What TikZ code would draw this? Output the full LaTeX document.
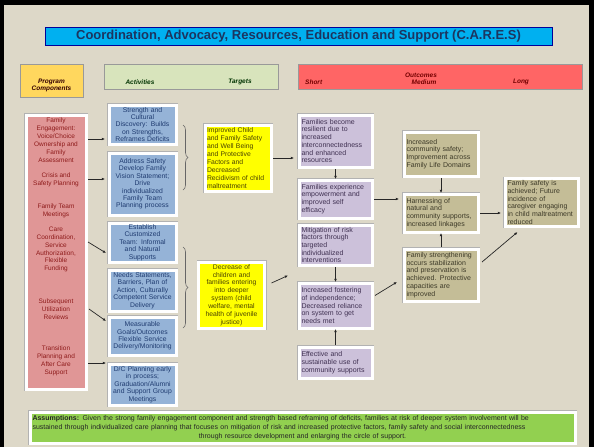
\documentclass[tikz,border=0pt]{standalone}
\usepackage{fontspec}
\setmainfont{Liberation Sans}
\usetikzlibrary{arrows.meta,decorations.pathreplacing,calc}
\definecolor{bg}{HTML}{DDD8C8}
\definecolor{titleblue}{HTML}{00B0F0}
\definecolor{titletext}{HTML}{1C3560}
\definecolor{pcyellow}{HTML}{FFD75E}
\definecolor{hdrgreen}{HTML}{D8E4BC}
\definecolor{hdrred}{HTML}{FF6565}
\definecolor{pinkfill}{HTML}{E09696}
\definecolor{pinktext}{HTML}{8E1B1B}
\definecolor{actblue}{HTML}{95B3D7}
\definecolor{acttext}{HTML}{1F3B70}
\definecolor{tyellow}{HTML}{FFFF00}
\definecolor{ttext}{HTML}{4A4300}
\definecolor{lav}{HTML}{CCC1DA}
\definecolor{lavtext}{HTML}{403152}
\definecolor{khaki}{HTML}{C4BD97}
\definecolor{khtext}{HTML}{3D3A28}
\definecolor{footgreen}{HTML}{92D050}
\begin{document}
\begin{tikzpicture}[x=1pt,y=-1pt,
  framed/.style={fill=#1, draw=white, line width=3pt, preaction={draw=black!30, line width=4pt}, inner sep=1.5pt, outer sep=0pt},
  pctext/.style={font=\fontsize{6.5}{7.9}\selectfont, align=center, text=pinktext, inner sep=0pt},
  act/.style={framed=actblue, minimum width=67pt, text width=63pt, align=center, text=acttext, font=\fontsize{6.8}{7.4}\selectfont},
  tgt/.style={framed=tyellow, minimum width=66pt, minimum height=66pt, text width=62pt, text=ttext, font=\fontsize{6.8}{7.9}\selectfont},
  shrt/.style={framed=lav, minimum width=73pt, text width=68pt, align=left, text=lavtext, font=\fontsize{7}{7.7}\selectfont},
  med/.style={framed=khaki, minimum width=74pt, text width=69pt, align=left, text=khtext, font=\fontsize{7}{7.8}\selectfont},
  hdr/.style={draw=black!40, line width=0.5pt, outer sep=0pt},
  hdrtext/.style={font=\fontsize{6.5}{7.5}\selectfont\bfseries\itshape, inner sep=0pt, align=center},
  arr/.style={-{Latex[length=3.2pt,width=2.8pt]}, line width=0.7pt, black!85},
  brace/.style={decorate, decoration={brace, amplitude=5pt}, line width=0.6pt, black!60}
]
\useasboundingbox (0,0) rectangle (594,447);
\fill[bg] (0,0) rectangle (594,447);
\fill[black] (0,0) rectangle (4,447);
\fill[black] (0,0) rectangle (594,5);
\fill[black] (589,0) rectangle (594,447);

% title
\node[fill=titleblue, draw=blue!60!black, line width=0.5pt, minimum width=507pt, minimum height=18pt, inner sep=0pt, text=titletext, font=\fontsize{13}{14}\selectfont\bfseries] (title) at (298.5,36) {Coordination, Advocacy, Resources, Education and Support (C.A.R.E.S)};

% headers
\node[hdr, fill=pcyellow, minimum width=63pt, minimum height=33pt] (hpc) at (51.5,80.5) {};
\node[hdrtext, text=black!80!red] (hpct) at (51.5,85.5) {Program\\Components};
\node[hdr, fill=hdrgreen, minimum width=174pt, minimum height=25pt] (hact) at (191,76.5) {};
\node[hdrtext, text=black!80!green] (hacts) at (140,82) {Activities};
\node[hdrtext, text=black!80!green] (htgts) at (240,82) {Targets};
\node[hdr, fill=hdrred, minimum width=284pt, minimum height=25pt] (hout) at (440,76.5) {};
\node[hdrtext, text=red!45!black] (houtc) at (421,75) {Outcomes};
\node[hdrtext, text=red!45!black, anchor=west] (hshort) at (305,82) {Short};
\node[hdrtext, text=red!45!black] (hmed) at (424,82) {Medium};
\node[hdrtext, text=red!45!black] (hlong) at (521,82) {Long};

% program components
\node[framed=pinkfill, minimum width=60pt, minimum height=274pt] (PC) at (56,252) {};
\node[pctext] (pc1) at (56,140) {Family\\Engagement:\\Voice/Choice\\Ownership and\\Family\\Assessment};
\node[pctext] (pc2) at (56,180) {Crisis and\\Safety Planning};
\node[pctext] (pc3) at (56,211) {Family Team\\Meetings};
\node[pctext] (pc4) at (56,249.5) {Care\\Coordination,\\Service\\Authorization,\\Flexible\\Funding};
\node[pctext] (pc5) at (56,309.5) {Subsequent\\Utilization\\Reviews};
\node[pctext] (pc6) at (56,361) {Transition\\Planning and\\After Care\\Support};

% activities
\node[act, minimum height=39pt] (A1) at (142.5,124.5) {Strength and\\Cultural\\Discovery: Builds\\on Strengths,\\Reframes Deficits};
\node[act, minimum height=62pt] (A2) at (142.5,184) {Address Safety\\Develop Family\\Vision Statement;\\Drive\\individualized\\Family Team\\Planning process};
\node[act, minimum height=39pt] (A3) at (142.5,242.5) {Establish\\Customized\\Team: Informal\\and Natural\\Supports};
\node[act, minimum height=41pt] (A4) at (142.5,290.5) {Needs Statements,\\Barriers, Plan of\\Action, Culturally\\Competent Service\\Delivery};
\node[act, minimum height=38pt] (A5) at (142.5,336) {Measurable\\Goals/Outcomes\\Flexible Service\\Delivery/Monitoring};
\node[act, minimum height=41pt] (A6) at (142.5,384.5) {D/C Planning early\\in process;\\Graduation/Alumni\\and Support Group\\Meetings};

% braces
\draw[brace] (183,125) -- (183,190);
\draw[brace] (183,247) -- (183,328);

% targets
\node[tgt, align=left] (T1) at (238,158) {Improved Child\\and Family Safety\\and Well Being\\and Protective\\Factors and\\Decreased\\Recidivism of child\\maltreatment};
\node[tgt, align=center] (T2) at (231.5,295) {Decrease of\\children and\\families entering\\into deeper\\system (child\\welfare, mental\\health of juvenile\\justice)};

% short outcomes
\node[shrt, minimum height=52pt] (S1) at (335.5,141) {Families become\\resilient due to\\increased\\interconnectedness\\and enhanced\\resources};
\node[shrt, minimum height=38pt] (S2) at (335.5,199) {Families experience\\empowerment and\\improved self\\efficacy};
\node[shrt, minimum height=40pt] (S3) at (335.5,245) {Mitigation of risk\\factors through\\targeted\\individualized\\interventions};
\node[shrt, minimum height=45pt] (S4) at (335.5,305.5) {Increased fostering\\of independence;\\Decreased reliance\\on system to get\\needs met};
\node[shrt, minimum height=31pt] (S5) at (335.5,362.5) {Effective and\\sustainable use of\\community supports};

% medium outcomes
\node[med, minimum height=44pt] (M1) at (441,154) {Increased\\community safety;\\Improvement across\\Family Life Domains};
\node[med, minimum height=38pt] (M2) at (441,213) {Harnessing of\\natural and\\community supports,\\increased linkages};
\node[med, minimum height=52pt] (M3) at (441,275) {Family strengthening\\occurs stabilization\\and preservation is\\achieved. Protective\\capacities are\\improved};

% long outcome
\node[med, minimum width=73pt, text width=68pt, minimum height=47pt] (L) at (541.5,202.5) {Family safety is\\achieved; Future\\incidence of\\caregiver engaging\\in child maltreatment\\reduced};

% footer
\node[framed=footgreen, minimum width=545pt, minimum height=31pt, text width=540pt, align=center, inner sep=1pt, text=black!85, font=\fontsize{7}{9}\selectfont] (foot) at (302.5,427.5) {\makebox[540pt][s]{\textbf{Assumptions:} Given the strong family engagement component and strength based reframing of deficits, families at risk of deeper system involvement will be}\\\makebox[540pt][s]{sustained through individualized care planning that focuses on mitigation of risk and increased protective factors, family safety and social interconnectedness}\\through resource development and enlarging the circle of support.};

% connectors: program components -> activities
\draw[arr] ($(PC.east|-0,139)+(2,0)$) -- ($(A1.west|-0,139)+(-4,0)$);
\draw[arr] ($(PC.east|-0,179)+(2,0)$) -- ($(A2.west|-0,179)+(-4,0)$);
\draw[arr] ($(PC.east|-0,242)+(2,0)$) -- ($(A3.west|-0,253)+(-3,0)$);
\draw[arr] ($(PC.east|-0,309)+(3,0)$) -- ($(A5.west|-0,321)+(-3,0)$);
\draw[arr] ($(PC.east|-0,363)+(2,0)$) -- ($(A6.west|-0,363)+(-3,0)$);

% targets -> short
\draw[arr] ($(T1.east)+(2,0)$) -- ($(S1.west|-T1.east)+(-5,0)$);
\draw[arr] ($(T2.east)+(7,-12)$) -- ($(S4.west)+(-11,-30)$);

% short internal
\draw[arr, shorten <=2pt, shorten >=1pt] (S1.south) -- (S2.north);
\draw[arr, shorten <=2pt, shorten >=1pt] (S3.south) -- (S4.north);
\draw[arr, shorten <=2pt, shorten >=1pt] (S5.north) -- (S4.south);

% short -> medium
\draw[arr] ($(S2.east)+(2,0)$) -- ($(M2.west|-S2.east)+(-5,0)$);
\draw[arr] ($(S4.east)+(3,-10)$) -- ($(M3.west)+(-7,7)$);

% medium internal
\draw[arr, shorten <=2pt, shorten >=1pt] (M1.south) -- (M2.north);
\draw[arr, shorten <=2pt, shorten >=1pt] (M3.north) -- (M2.south);

% medium -> long
\draw[arr] ($(M2.east)+(2,0)$) -- ($(L.west|-M2.east)+(-4,0)$);
\draw[arr] ($(M3.east)+(4,-13)$) -- ($(L.south)+(-24,6)$);
\end{tikzpicture}
\end{document}
